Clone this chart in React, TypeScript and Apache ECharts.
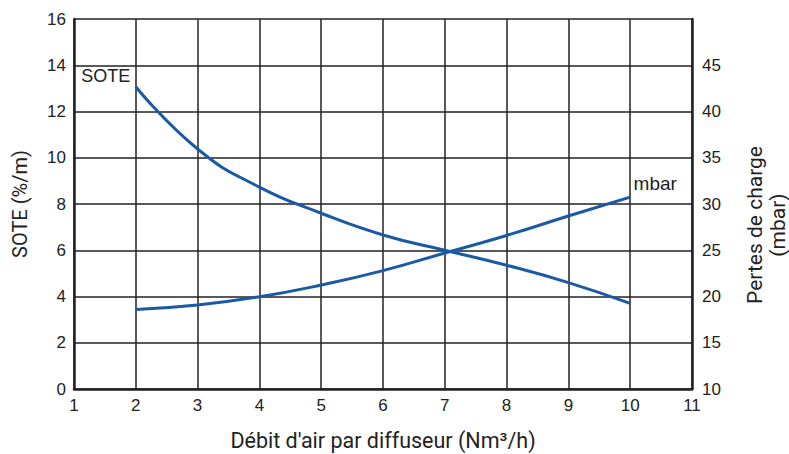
import React, { useEffect, useRef } from "react";
import * as echarts from "echarts";

const xValues = [2, 3, 4, 5, 6, 7, 8, 9, 10];
const soteValues = [13.07, 10.38, 8.73, 7.6, 6.66, 6.0, 5.35, 4.6, 3.7];
const mbarValues = [18.6, 19.08, 19.97, 21.24, 22.8, 24.7, 26.6, 28.7, 30.75];
const xTicks = [1, 2, 3, 4, 5, 6, 7, 8, 9, 10, 11];

const NAME_FONT = "Roboto, 'Noto Sans', sans-serif";
const TICK_FONT = "'Liberation Sans', Arial, sans-serif";
const LINE = "#1a5aa5";
const INK = "#222222";

export default function App() {
  const ref = useRef<HTMLDivElement>(null);
  useEffect(() => {
    if (!ref.current) return;
    const chart = echarts.init(ref.current, null, { renderer: "svg" });
    const soteData = xValues.map((x, i) => {
      const item: any = { value: [x, soteValues[i]] };
      if (i === 0) {
        item.label = { show: true, formatter: "SOTE", position: "left", offset: [0, -11] };
      }
      return item;
    });
    const mbarData = xValues.map((x, i) => {
      const item: any = { value: [x, mbarValues[i]] };
      if (i === xValues.length - 1) {
        item.label = { show: true, formatter: "mbar", position: "top", offset: [25, 1] };
      }
      return item;
    });
    chart.setOption({
      animation: false,
      textStyle: { fontFamily: TICK_FONT },
      grid: { left: 74, right: 97, top: 19, bottom: 65, show: false, outerBoundsMode: "none", containLabel: false },
      xAxis: {
        type: "value",
        min: 1,
        max: 11,
        interval: 1,
        name: "Débit d'air par diffuseur (Nm³/h)",
        nameLocation: "middle",
        nameGap: 40,
        nameTextStyle: { fontSize: 21.5, color: INK, fontFamily: NAME_FONT },
        axisLine: { show: true, onZero: false, lineStyle: { color: INK, width: 2.5 } },
        axisTick: { show: false },
        axisLabel: {
          fontSize: 17,
          color: INK,
          margin: 8,
          fontFamily: TICK_FONT,
          formatter: (v: number) => (xTicks.includes(v) ? String(v) : ""),
        },
        splitLine: { show: true, lineStyle: { color: INK, width: 1.5 } },
      },
      yAxis: [
        {
          type: "value",
          min: 0,
          max: 16,
          interval: 2,
          position: "left",
          name: "SOTE (%/m)",
          nameLocation: "middle",
          nameGap: 44,
          nameRotate: 90,
          nameTextStyle: { fontSize: 20, color: INK, fontFamily: NAME_FONT },
          axisLine: { show: true, lineStyle: { color: INK, width: 2.5 } },
          axisTick: { show: false },
          axisLabel: { fontSize: 17, color: INK, margin: 8, fontFamily: TICK_FONT },
          splitLine: { show: true, lineStyle: { color: INK, width: 1.5 } },
        },
        {
          type: "value",
          min: 10,
          max: 50,
          interval: 5,
          position: "right",
          name: "Pertes de charge\n(mbar)",
          nameLocation: "middle",
          nameGap: 51,
          nameRotate: 90,
          nameTextStyle: {
            fontSize: 21,
            color: INK,
            fontFamily: NAME_FONT,
            lineHeight: 23,
            align: "center",
            padding: [0, 42, 0, 0],
          },
          axisLine: { show: true, lineStyle: { color: INK, width: 2.5 } },
          axisTick: { show: false },
          axisLabel: {
            fontSize: 17,
            color: INK,
            margin: 10,
            fontFamily: TICK_FONT,
            formatter: (v: number) => (v >= 50 ? "" : String(v)),
          },
          splitLine: { show: false },
        },
      ],
      series: [
        {
          type: "line",
          yAxisIndex: 0,
          data: soteData,
          smooth: 0.5,
          showSymbol: true,
          symbol: "circle",
          symbolSize: 1,
          itemStyle: { color: "rgba(0,0,0,0)" },
          lineStyle: { color: LINE, width: 3 },
          label: { show: false, fontSize: 18, color: INK, fontFamily: TICK_FONT },
        },
        {
          type: "line",
          yAxisIndex: 1,
          data: mbarData,
          smooth: 0.5,
          showSymbol: true,
          symbol: "circle",
          symbolSize: 1,
          itemStyle: { color: "rgba(0,0,0,0)" },
          lineStyle: { color: LINE, width: 3 },
          label: { show: false, fontSize: 19, color: INK, fontFamily: TICK_FONT },
        },
      ],
    });
    return () => chart.dispose();
  }, []);
  return <div ref={ref} style={{ width: 789, height: 454, position: "absolute", left: 0, top: 0 }} />;
}
